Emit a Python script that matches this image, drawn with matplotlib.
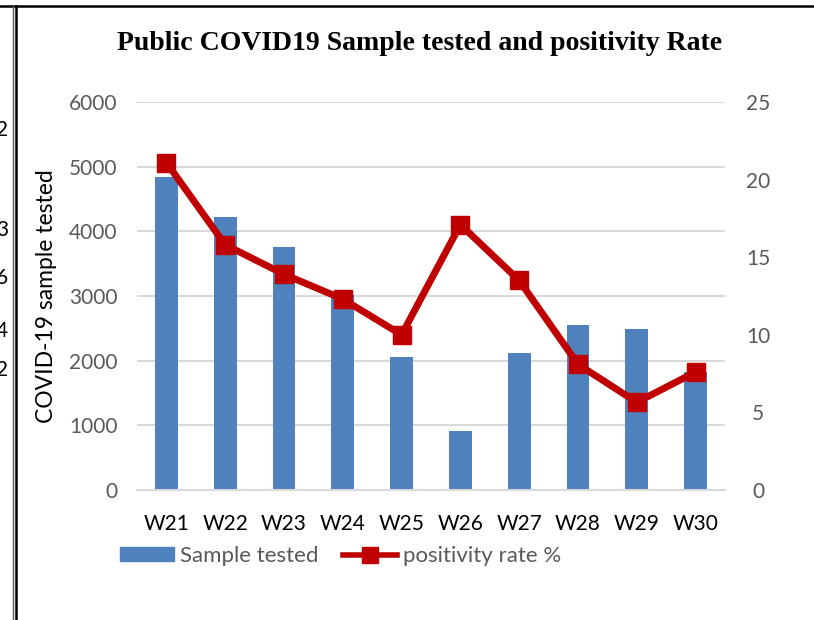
import matplotlib
matplotlib.use("Agg")
import matplotlib.pyplot as plt
from matplotlib.lines import Line2D
from matplotlib.patches import Patch

weeks = ["W21", "W22", "W23", "W24", "W25", "W26", "W27", "W28", "W29", "W30"]
samples = [4836, 4217, 3763, 3015, 2052, 908, 2113, 2547, 2485, 1820]
positivity = [21.1, 15.8, 13.9, 12.3, 10.0, 17.1, 13.5, 8.1, 5.65, 7.6]
left_ticks = [0, 1000, 2000, 3000, 4000, 5000, 6000]
right_ticks = [0, 5, 10, 15, 20, 25]
edge_digits = ["2", "3", "6", "4", "2"]
edge_digit_y = [130, 230, 278, 331, 370]

W, H = 814, 620
fig = plt.figure(figsize=(W / 100, H / 100), dpi=100)
fig.patch.set_facecolor("white")

FONT = "Lato"
GRAY = "#595959"
GRID = "#D9D9D9"
BLUE = "#4F81BD"
RED = "#C00000"

def fx(px):
    return px / W

def fy(py):
    return 1 - py / H

ax = fig.add_axes([fx(137), fy(490), fx(725) - fx(137), fy(102) - fy(490)])
x = list(range(len(weeks)))
ax.bar(x, samples, width=0.39, color=BLUE, zorder=2)
ax.set_xlim(-0.5, len(weeks) - 0.5)
ax.set_ylim(0, 6000)
ax.set_yticks(left_ticks)
ax.set_yticklabels([str(v) for v in left_ticks], fontfamily=FONT, fontsize=15, color=GRAY)
ax.set_xticks(x)
ax.set_xticklabels(weeks, fontfamily=FONT, fontsize=15, color="black")
ax.tick_params(axis="y", length=0, pad=14)
ax.tick_params(axis="x", length=0, pad=17)
ax.grid(axis="y", color=GRID, linewidth=1.5, zorder=0)
ax.set_axisbelow(True)
for s in ["top", "right", "left"]:
    ax.spines[s].set_visible(False)
ax.spines["bottom"].set_color(GRID)
ax.spines["bottom"].set_linewidth(1.5)
ax.set_ylabel("COVID-19 sample tested", fontfamily=FONT, fontsize=16.5, color="black", labelpad=9)

ax2 = ax.twinx()
ax2.plot(x, positivity, color=RED, linewidth=5, marker="s", markersize=12.5,
         markerfacecolor=RED, markeredgecolor=RED, zorder=3, solid_joinstyle="round")
ax2.set_ylim(0, 25)
ax2.set_yticks(right_ticks)
ax2.set_yticklabels([str(v) for v in right_ticks], fontfamily=FONT, fontsize=15, color=GRAY)
ax2.tick_params(axis="y", length=0, pad=24)
for lab in ax2.get_yticklabels():
    lab.set_horizontalalignment("center")
for s in ["top", "right", "left", "bottom"]:
    ax2.spines[s].set_visible(False)

fig.text(fx(420), fy(44), "Public COVID19 Sample tested and positivity Rate",
         fontfamily="Liberation Serif", fontweight="bold", fontsize=20,
         ha="center", va="center", color="black")

handles = [Patch(facecolor=BLUE, edgecolor=BLUE),
           Line2D([0], [0], color=RED, linewidth=4, marker="s", markersize=12,
                  markerfacecolor=RED, markeredgecolor=RED)]
leg = fig.legend(handles, ["Sample tested", "positivity rate %"], loc="center",
                 bbox_to_anchor=(fx(341), fy(556)), ncol=2, frameon=False,
                 prop={"family": FONT, "size": 16}, handlelength=2.4,
                 handleheight=0.6, handletextpad=0.3, columnspacing=1.1)
for t in leg.get_texts():
    t.set_color(GRAY)

# frame lines
fig.add_artist(Line2D([0, 1], [fy(6), fy(6)], transform=fig.transFigure, color="black", linewidth=1.8))
fig.add_artist(Line2D([fx(12.5), fx(12.5)], [0, fy(6)], transform=fig.transFigure, color="#555555", linewidth=1.0))
fig.add_artist(Line2D([fx(15.5), fx(15.5)], [0, fy(6)], transform=fig.transFigure, color="black", linewidth=1.8))

for d, yy in zip(edge_digits, edge_digit_y):
    fig.text(fx(8), fy(yy), d, fontfamily=FONT, fontsize=15, color="black", ha="right", va="center")

fig.savefig("out.png", dpi=100, facecolor="white")
